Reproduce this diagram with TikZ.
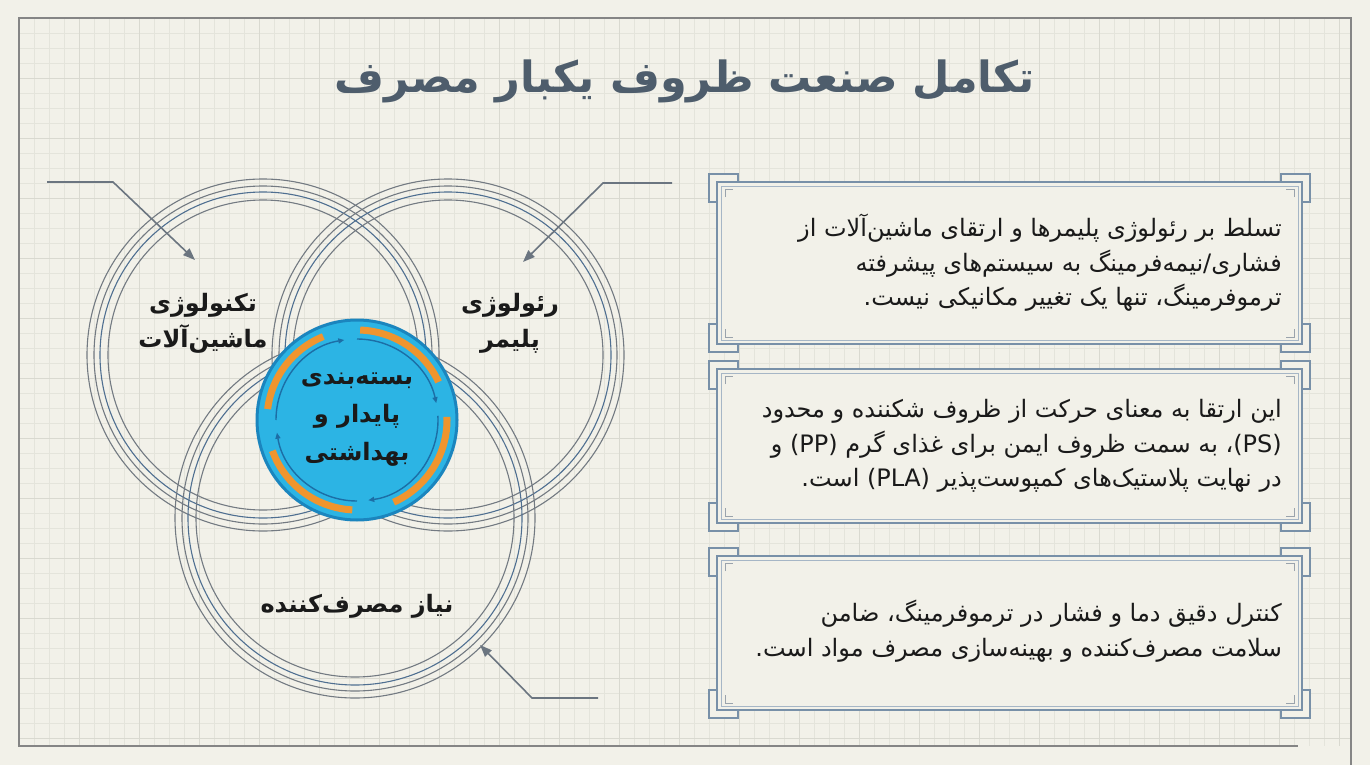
\documentclass[tikz,border=0pt]{standalone}
\usepackage{fontspec}
\usetikzlibrary{arrows.meta}
\TeXXeTstate=1
\newfontfamily\fa[Script=Arabic]{DejaVu Sans}
\newcommand\rtlline[1]{\beginR#1\endR}
\definecolor{bgc}{HTML}{F2F1E9}
\definecolor{gridminor}{HTML}{E4E4DB}
\definecolor{gridmajor}{HTML}{D9D9D0}
\definecolor{framec}{HTML}{858585}
\definecolor{titlec}{HTML}{4E5D6C}
\definecolor{ringgray}{HTML}{737A82}
\definecolor{ringblue}{HTML}{4F6F91}
\definecolor{hubfill}{HTML}{2CB4E4}
\definecolor{hubedge}{HTML}{1B85BE}
\definecolor{hubarrow}{HTML}{1C6EA6}
\definecolor{orangec}{HTML}{F0952E}
\definecolor{boxline}{HTML}{7890A8}
\definecolor{boxinner}{HTML}{A6B6C6}
\definecolor{tickc}{HTML}{9AA3AC}
\definecolor{leader}{HTML}{6B7580}
\definecolor{textc}{HTML}{1A1A1A}
\tikzset{
  ringg/.style={draw=ringgray, line width=1.1pt},
  ringb/.style={draw=ringblue, line width=1.1pt},
  leaderline/.style={draw=leader, line width=1.6pt, -{Triangle[length=12pt,width=9pt]}},
  titlestyle/.style={font=\fa\bfseries\fontsize{43}{50}\selectfont, text=titlec, inner sep=0pt},
  circlabel/.style={font=\fa\bfseries\fontsize{24}{36}\selectfont, text=textc, align=center, inner sep=0pt},
  hubtext/.style={font=\fa\bfseries\fontsize{24}{38}\selectfont, text=textc, align=center, inner sep=0pt},
  boxtext/.style={font=\fa\fontsize{24}{34.5}\selectfont, text=textc, align=right, anchor=east, inner sep=0pt},
  bracket/.style={fill=bgc, draw=boxline, line width=1.4pt},
  orangearc/.style={draw=orangec, line width=7pt},
  hubarc/.style={draw=hubarrow, line width=1.4pt, -{Triangle[length=6pt,width=5pt]}},
}
\newcommand\ringset[3]{%
  \draw[ringg] (#1,#2) circle[radius=#3];
  \draw[ringg] (#1,#2) circle[radius=#3-7];
  \draw[ringb] (#1,#2) circle[radius=#3-13];
  \draw[ringg] (#1,#2) circle[radius=#3-21];
}
\newcommand\infopanel[2]{% top, bottom ; x from 717 to 1302
  \draw[bracket] (709,#1-8) -- (738,#1-8) -- (738,#1) -- (717,#1) -- (717,#1+20) -- (709,#1+20) -- cycle;
  \draw[bracket] (1310,#1-8) -- (1281,#1-8) -- (1281,#1) -- (1302,#1) -- (1302,#1+20) -- (1310,#1+20) -- cycle;
  \draw[bracket] (709,#2+8) -- (738,#2+8) -- (738,#2) -- (717,#2) -- (717,#2-20) -- (709,#2-20) -- cycle;
  \draw[bracket] (1310,#2+8) -- (1281,#2+8) -- (1281,#2) -- (1302,#2) -- (1302,#2-20) -- (1310,#2-20) -- cycle;
  \filldraw[fill=bgc, draw=boxline, line width=1.6pt] (717,#1) rectangle (1302,#2);
  \draw[boxinner, line width=1pt] (721,#1+4) rectangle (1298,#2-4);
  \draw[tickc, line width=1pt] (725,#1+15) -- (725,#1+7) -- (733,#1+7);
  \draw[tickc, line width=1pt] (1294,#1+15) -- (1294,#1+7) -- (1286,#1+7);
  \draw[tickc, line width=1pt] (725,#2-15) -- (725,#2-7) -- (733,#2-7);
  \draw[tickc, line width=1pt] (1294,#2-15) -- (1294,#2-7) -- (1286,#2-7);
}
\begin{document}
\begin{tikzpicture}[x=1pt,y=-1pt]
\fill[bgc] (0,0) rectangle (1370,765);
\useasboundingbox (0,0) rectangle (1370,765);
% grid
\foreach \x in {34,49,...,1349} \draw[gridminor, line width=0.7pt] (\x,18) -- (\x,746);
\foreach \y in {33,48,...,745} \draw[gridminor, line width=0.7pt] (19,\y) -- (1351,\y);
\foreach \x in {79,139,...,1349} \draw[gridmajor, line width=0.9pt] (\x,18) -- (\x,746);
\foreach \y in {78,138,...,745} \draw[gridmajor, line width=0.9pt] (19,\y) -- (1351,\y);
% frame
\draw[framec, line width=2pt] (1351,765) -- (1351,18) -- (19,18) -- (19,746) -- (1298,746);
% title
\node[titlestyle] (title) at (685,81) {\rtlline{تکامل صنعت ظروف یکبار مصرف}};
% venn rings
\ringset{263}{355}{176}
\ringset{448}{355}{176}
\ringset{355}{518}{180}
% leaders
\coordinate (l1s) at (47,182); \coordinate (l1k) at (113,182); \coordinate (l1e) at (195,260);
\coordinate (l2s) at (672,183); \coordinate (l2k) at (603,183); \coordinate (l2e) at (523,262);
\coordinate (l3s) at (598,698); \coordinate (l3k) at (532,698); \coordinate (l3e) at (480,645);
\draw[leaderline] (l1s) -- (l1k) -- (l1e);
\draw[leaderline] (l2s) -- (l2k) -- (l2e);
\draw[leaderline] (l3s) -- (l3k) -- (l3e);
% hub
\node[circle, fill=hubfill, draw=hubedge, line width=3pt, minimum size=200pt, inner sep=0pt] (hub) at (357,420) {};
\draw[orangearc] ([shift={(-88:90)}]hub.center) arc[start angle=-88, end angle=-25, radius=90];
\draw[orangearc] ([shift={(-2:90)}]hub.center) arc[start angle=-2, end angle=66, radius=90];
\draw[orangearc] ([shift={(93:90)}]hub.center) arc[start angle=93, end angle=160, radius=90];
\draw[orangearc] ([shift={(-173:90)}]hub.center) arc[start angle=-173, end angle=-112, radius=90];
\draw[hubarc] ([shift={(-180:81)}]hub.center) arc[start angle=-180, end angle=-99, radius=81];
\draw[hubarc] ([shift={(-90:81)}]hub.center) arc[start angle=-90, end angle=-12, radius=81];
\draw[hubarc] ([shift={(-3:81)}]hub.center) arc[start angle=-3, end angle=82, radius=81];
\draw[hubarc] ([shift={(90:81)}]hub.center) arc[start angle=90, end angle=171, radius=81];
\node[hubtext] (hubt) at (hub.center) {\rtlline{بسته^^^^200cبندی}\\\rtlline{پایدار و}\\\rtlline{بهداشتی}};
% circle labels
\node[circlabel] (lab1) at (203,323) {\rtlline{تکنولوژی}\\\rtlline{ماشین^^^^200cآلات}};
\node[circlabel] (lab2) at (510,323) {\rtlline{رئولوژی}\\\rtlline{پلیمر}};
\node[circlabel] (lab3) at (357,606) {\rtlline{نیاز مصرف^^^^200cکننده}};
% panels
\infopanel{182}{344}
\infopanel{369}{523}
\infopanel{556}{710}
\node[boxtext] (t1) at (1282,263) {\rtlline{تسلط بر رئولوژی پلیمرها و ارتقای ماشین^^^^200cآلات از}\\\rtlline{فشاری/نیمه^^^^200cفرمینگ به سیستم^^^^200cهای پیشرفته}\\\rtlline{ترموفرمینگ، تنها یک تغییر مکانیکی نیست.}};
\node[boxtext] (t2) at (1282,446) {\rtlline{این ارتقا به معنای حرکت از ظروف شکننده و محدود}\\\rtlline{\beginL(PS)\endL، به سمت ظروف ایمن برای غذای گرم \beginL(PP)\endL{} و}\\\rtlline{در نهایت پلاستیک^^^^200cهای کمپوست^^^^200cپذیر \beginL(PLA)\endL{} است.}};
\node[boxtext] (t3) at (1282,631) {\rtlline{کنترل دقیق دما و فشار در ترموفرمینگ، ضامن}\\\rtlline{سلامت مصرف^^^^200cکننده و بهینه^^^^200cسازی مصرف مواد است.}};
\end{tikzpicture}
\end{document}
